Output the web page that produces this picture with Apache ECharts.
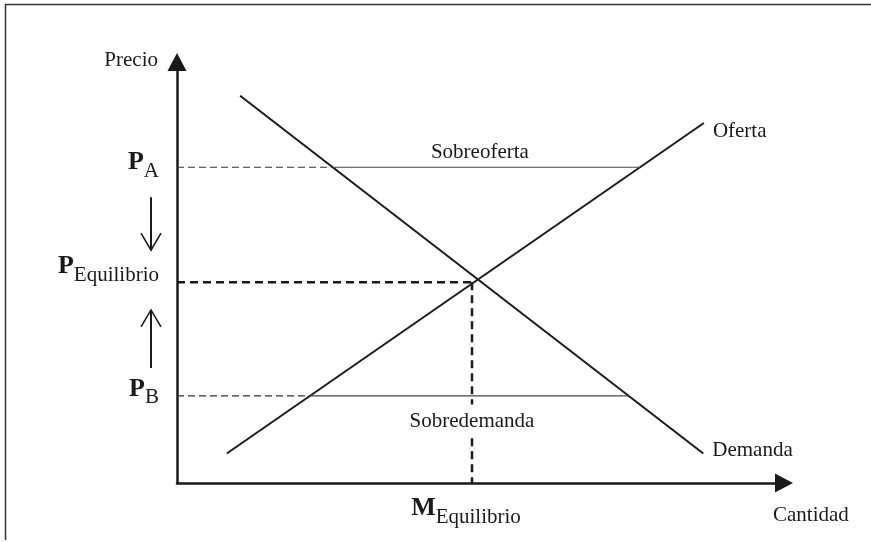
<html style="height: 100%">
<meta http-equiv=Content-Type content="text/html;charset=utf-8" />
<script type="text/javascript" src="https://cdn.jsdelivr.net/npm/echarts/dist/echarts.min.js"></script>
<body style="height: 100%; margin: 0; background: #fff">
<div id="echart" style="width: 871px; height: 542px"></div>
<script type="text/javascript">

	// curvas (extremos, escala 0-100)
	var demandaX = [10.4, 86.7];
	var demandaY = [92, 7];
	var ofertaX = [8.2, 86.8];
	var ofertaY = [7, 85.5];

	// precios marcados en el eje Y
	var preciosNombre = ["A", "Equilibrio", "B"];
	var preciosValor = [75, 47.7, 20.7];
	// cantidad de equilibrio
	var mEquilibrio = 48.6;

	// tramos horizontales entre demanda y oferta
	var sobreofertaX = [25.7, 76.3];
	var sobredemandaX = [21.9, 74.4];

	// flechas de ajuste del precio (desde -> hasta)
	var flechasDesde = [67.9, 27.3];
	var flechasHasta = [55.3, 41.1];

	var fuente = "Liberation Serif";
	var tinta = "#1a1a1a";

	function par(xs, ys) {
		var d = [];
		for (var i = 0; i < xs.length; i++) d.push([xs[i], ys[i]]);
		return d;
	}

	function linea(data, ancho, tipo, color) {
		return {
			type: 'line', data: data, symbol: 'none', clip: false, silent: true,
			lineStyle: { width: ancho, type: tipo, color: color || tinta }
		};
	}

	function texto(valor, label) {
		label.show = true;
		label.fontFamily = fuente;
		label.fontSize = 21;
		label.color = tinta;
		label.textBorderWidth = 0;
		return { value: valor, label: label };
	}

	var pa = preciosValor[0], pe = preciosValor[1], pb = preciosValor[2];

	var series = [];
	series.push(linea(par(demandaX, demandaY), 2, 'solid'));
	series.push(linea(par(ofertaX, ofertaY), 2, 'solid'));

	series.push(linea([[0, pa], [sobreofertaX[0], pa]], 1.2, [7, 4], '#333'));
	series.push(linea([[sobreofertaX[0], pa], [sobreofertaX[1], pa]], 1.2, 'solid', '#444'));
	series.push(linea([[0, pb], [sobredemandaX[0], pb]], 1.2, [7, 4], '#333'));
	series.push(linea([[sobredemandaX[0], pb], [sobredemandaX[1], pb]], 1.2, 'solid', '#444'));
	series.push(linea([[0, pe], [mEquilibrio, pe]], 2.5, [8, 5]));
	series.push(linea([[mEquilibrio, pe], [mEquilibrio, 0]], 2.5, [8, 5]));

	// textos
	var rich = {
		p: { fontFamily: fuente, fontSize: 26, fontWeight: 'bold', color: tinta },
		s: { fontFamily: fuente, fontSize: 21, color: tinta, padding: [18, 0, 0, 0] }
	};
	var desplaz = [-5, -16, -7];
	var textos = [];
	for (var i = 0; i < preciosValor.length; i++) {
		textos.push(texto([0, preciosValor[i]], {
			position: 'left', distance: 18, offset: [0, desplaz[i]],
			formatter: '{p|P}{s|' + preciosNombre[i] + '}', rich: rich
		}));
	}
	textos.push(texto([mEquilibrio, 0], {
		position: 'bottom', distance: 6, offset: [-6, 0],
		formatter: '{p|M}{s|Equilibrio}', rich: rich
	}));
	textos.push(texto([demandaX[1], demandaY[1]], { position: 'right', distance: 9, offset: [0, -3], formatter: 'Demanda' }));
	textos.push(texto([ofertaX[1], ofertaY[1]], { position: 'right', distance: 9, offset: [0, 8], formatter: 'Oferta' }));
	textos.push(texto([49.9, 78.4], { position: 'inside', formatter: 'Sobreoferta' }));
	textos.push(texto([mEquilibrio, 14.7], { position: 'inside', formatter: 'Sobredemanda',
		backgroundColor: '#fff', padding: [6, 2] }));
	series.push({ type: 'scatter', symbolSize: 0, clip: false, silent: true, data: textos, z: 5,
		itemStyle: { opacity: 1 } });

	function eje(nombre, estiloNombre, gap) {
		return {
			type: 'value', min: 0, max: 100,
			name: nombre, nameLocation: 'end', nameGap: gap, nameTextStyle: estiloNombre,
			axisLine: { show: true, onZero: false, symbol: ['none', 'triangle'], symbolSize: [19, 18],
				lineStyle: { color: tinta, width: 2.5 } },
			axisTick: { show: false }, axisLabel: { show: false }, splitLine: { show: false }
		};
	}

	var myChart = echarts.init(document.getElementById('echart'));
	myChart.setOption({
		animation: false,
		backgroundColor: '#fff',
		grid: { left: 177, right: 87, top: 62, bottom: 59 },
		xAxis: eje('Cantidad', { fontFamily: fuente, fontSize: 21, color: tinta, align: 'left', verticalAlign: 'top', padding: [22, 0, 0, 0] }, -11),
		yAxis: eje('Precio', { fontFamily: fuente, fontSize: 21, color: tinta, align: 'right', verticalAlign: 'middle', padding: [0, 19, 0, 0] }, 2),
		series: series
	});

	// marco (solo arriba e izquierda) y flechas del precio, a 26px del eje Y
	var graficos = [
		{ type: 'polyline', shape: { points: [[5.5, 540], [5.5, 4.5], [871, 4.5]] }, style: { fill: null, stroke: '#333', lineWidth: 1.5 } }
	];
	for (var i = 0; i < flechasDesde.length; i++) {
		var a = myChart.convertToPixel({ gridIndex: 0 }, [0, flechasDesde[i]]);
		var b = myChart.convertToPixel({ gridIndex: 0 }, [0, flechasHasta[i]]);
		var x = a[0] - 26;
		var dir = b[1] > a[1] ? -1 : 1;
		graficos.push({ type: 'polyline', silent: true, shape: { points: [[x, a[1]], [x, b[1]]] },
			style: { fill: null, stroke: tinta, lineWidth: 2 } });
		graficos.push({ type: 'polyline', silent: true, shape: { points: [[x - 10, b[1] + dir * 17], [x, b[1]], [x + 10, b[1] + dir * 17]] },
			style: { fill: null, stroke: tinta, lineWidth: 1.6 } });
	}
	myChart.setOption({ graphic: graficos });

</script>
</body>
</html>
